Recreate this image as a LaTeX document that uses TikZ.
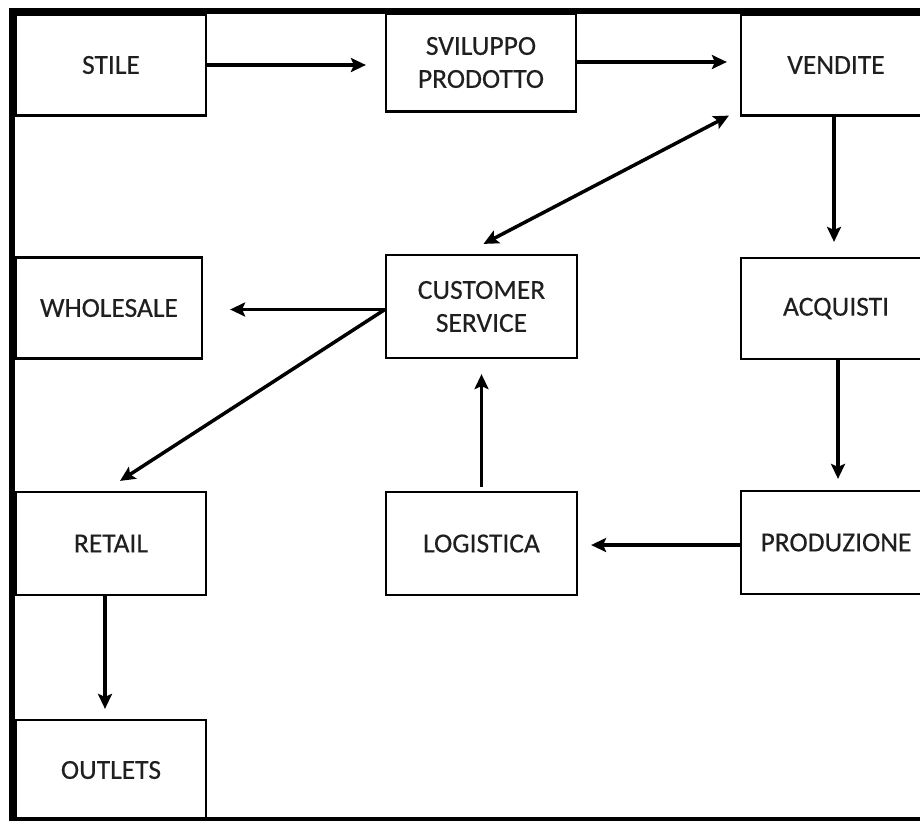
\documentclass[tikz,border=0pt]{standalone}
\usepackage{fontspec}
\setmainfont{Carlito}
\newfontfamily\boxfont{Carlito}[FakeBold=0.35]
\usetikzlibrary{arrows.meta,calc}

\tikzset{
  box/.style={draw=black, line width=2.2pt, fill=white, minimum width=190pt,
    minimum height=101pt, inner sep=0pt, align=center,
    font=\boxfont\fontsize{27.5}{33}\selectfont, text=black!88},
  flow/.style={line width=3.5pt, -{Stealth[length=15pt,width=14pt,inset=3pt]}},
  both/.style={line width=3.5pt, {Stealth[length=15pt,width=14pt,inset=3pt]}-{Stealth[length=15pt,width=14pt,inset=3pt]}},
  frame/.style={draw=black, line width=6.5pt}
}

\begin{document}
\begin{tikzpicture}[x=1pt,y=1pt]
\useasboundingbox (0,0) rectangle (920,-820);
\clip (0,0) rectangle (920,-820);

% first row
\node[box] (stile) at (111,-65) {STILE};
\node[box, minimum height=98pt] (svil) at (481,-62.5) {SVILUPPO\\PRODOTTO};
\node[box] (vend) at (836,-65) {VENDITE};

% second row
\node[box, minimum width=186pt] (whole) at (109,-308) {WHOLESALE};
\node[box, minimum width=191pt, minimum height=103pt] (cs) at (481.5,-306.5) {CUSTOMER\\SERVICE};
\node[box] (acq) at (836,-308.5) {ACQUISTI};

% third row
\node[box, minimum height=103pt] (retail) at (111,-543.5) {RETAIL};
\node[box, minimum width=191pt, minimum height=103pt] (log) at (481.5,-543.5) {LOGISTICA};
\node[box, minimum height=103pt] (prod) at (836,-542.5) {PRODUZIONE};

% fourth row
\node[box, minimum height=100pt] (outlets) at (111,-770) {OUTLETS};

% outer frame
\draw[frame] (12,-11) rectangle (960,-820);

% connectors
\draw[flow, shorten >=19pt] (stile.east) -- (stile.east -| svil.west);
\draw[flow, shorten >=13pt] ($(svil.east)+(0,0.5)$) -- ($(svil.east -| vend.west)+(0,0.5)$);
\draw[both] ($(cs.north)+(2,10)$) -- ($(vend.south west)+(-11,1)$);
\draw[flow, shorten >=15pt] ($(vend.south)+(-2,0)$) -- ($(acq.north)+(-2,0)$);
\draw[flow, shorten >=27pt] ($(cs.west)+(0,-3)$) -- ($(cs.west -| whole.east)+(0,-3)$);
\draw[flow] ($(cs.west)+(0,-3)$) -- ($(retail.north)+(9,10)$);
\draw[flow, shorten <=4pt, shorten >=15pt] (log.north) -- (cs.south);
\draw[flow, shorten >=11pt] ($(acq.south)+(2,0)$) -- ($(prod.north)+(2,0)$);
\draw[flow, shorten >=13pt] ($(prod.west)+(0,-2.5)$) -- ($(prod.west -| log.east)+(0,-2.5)$);
\draw[flow, shorten >=10pt] ($(retail.south)+(-6,0)$) -- ($(outlets.north)+(-6,0)$);
\end{tikzpicture}
\end{document}
